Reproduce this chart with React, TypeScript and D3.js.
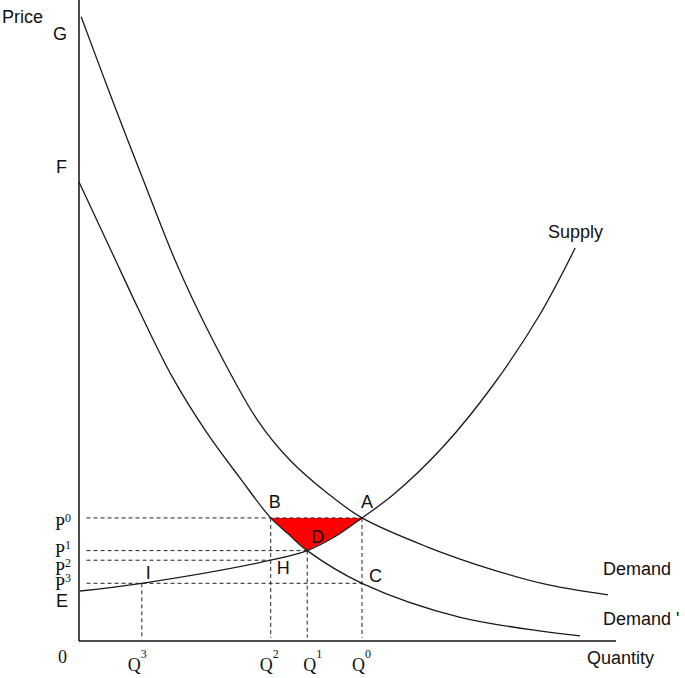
import React from 'react';
import * as d3 from 'd3';

// values, quantity and price both on a 0..100 scale
const supplyQ = [0.2, 11.7, 35.7, 42.5, 47.7, 52.7, 58.5, 67.8, 77.1, 85.8, 92.4];
const supplyP = [7.8, 9.0, 12.6, 14.1, 16.3, 19.2, 22.8, 30.3, 39.9, 50.9, 61.3];

const demandQ = [0.4, 6.2, 12.5, 18.1, 23.8, 33.2, 39.3, 46.2, 52.7, 64.8, 77.1, 87.7, 98.5];
const demandP = [97.4, 84.4, 70.8, 59.0, 48.8, 34.5, 28.2, 23.1, 19.2, 14.7, 11.1, 8.7, 7.2];

const demand2Q = [0, 6.2, 11.4, 17.5, 23.8, 30.0, 35.7, 39.1, 42.5, 52.7, 71.0, 93.3];
const demand2P = [71.6, 60.5, 51.2, 41.0, 32.5, 25.4, 19.2, 16.6, 14.1, 9.0, 3.7, 0.8];

// key points
const pointNames = ['A', 'B', 'C', 'D', 'H', 'I'];
const pointQ = [52.7, 35.7, 52.7, 42.5, 35.7, 11.7];
const pointP = [19.2, 19.2, 9.0, 14.1, 12.6, 9.0];
const pointLabelDx = [-1, -2, 7, 4, 6, 4];
const pointLabelDy = [-10, -10, -1, -8, 14, -4];

const priceLabels = ['0', '1', '2', '3'];
const priceLevels = [19.2, 14.1, 12.6, 9.0];
const priceEnds = [52.7, 42.5, 35.7, 52.7];
const priceLabelY = [530, 557, 575, 590];

const qtyLabels = ['3', '2', '1', '0'];
const qtyLevels = [11.7, 35.7, 42.5, 52.7];
const qtyTops = [9.0, 19.2, 14.1, 19.2];
const qtyLabelDx = [-14, -11, -4, -10];

const W = 685;
const H = 678;

const x = d3.scaleLinear().domain([0, 100]).range([79, 616]);
const y = d3.scaleLinear().domain([0, 100]).range([641, 0]);

const pts = (qs: number[], ps: number[]) => qs.map((q, i) => [q, ps[i]] as [number, number]);

const curve = d3.line<[number, number]>()
  .x(d => x(d[0]))
  .y(d => y(d[1]))
  .curve(d3.curveCatmullRom.alpha(0.5));

const poly = d3.line<[number, number]>()
  .x(d => x(d[0]))
  .y(d => y(d[1]));

const sans = 'Liberation Sans, Arial, Helvetica, sans-serif';
const serif = 'Liberation Serif, Times New Roman, serif';

export default function App() {
  const supply = pts(supplyQ, supplyP);
  const demand = pts(demandQ, demandP);
  const demand2 = pts(demand2Q, demand2P);

  const A: [number, number] = [pointQ[0], pointP[0]];
  const B: [number, number] = [pointQ[1], pointP[1]];
  const D: [number, number] = [pointQ[3], pointP[3]];

  // loss triangle: B -> A, down the supply to D, up the shifted demand to B
  const lossPts: [number, number][] = [
    B,
    A,
    ...supply.filter(p => p[0] > D[0] && p[0] < A[0]).reverse(),
    D,
    ...demand2.filter(p => p[0] > B[0] && p[0] < D[0]).reverse(),
  ];

  return (
    <svg width={W} height={H} style={{ position: 'absolute', left: 0, top: 0, background: '#fff' }}>
      <path d={poly(lossPts) + 'Z'} fill="#ff0000" stroke="none" />

      {/* dashed guides */}
      {priceLevels.map((p, i) => (
        <line key={'h' + i} x1={x(1.4)} x2={x(priceEnds[i])} y1={y(p)} y2={y(p)}
          stroke="#222" strokeWidth={1} strokeDasharray="4,3" />
      ))}
      {qtyLevels.map((q, i) => (
        <line key={'v' + i} x1={x(q)} x2={x(q)} y1={y(qtyTops[i])} y2={y(0.5)}
          stroke="#222" strokeWidth={1} strokeDasharray="4,3" />
      ))}

      {/* curves */}
      <path d={curve(demand) || ''} fill="none" stroke="#1a1a1a" strokeWidth={1.3} />
      <path d={curve(demand2) || ''} fill="none" stroke="#1a1a1a" strokeWidth={1.3} />
      <path d={curve(supply) || ''} fill="none" stroke="#1a1a1a" strokeWidth={1.3} />

      {/* axes */}
      <line x1={x(0)} x2={x(0)} y1={y(100)} y2={y(0)} stroke="#111" strokeWidth={1.5} />
      <line x1={x(0)} x2={x(100)} y1={y(0)} y2={y(0)} stroke="#111" strokeWidth={1.5} />

      {/* sans labels */}
      <g fontFamily={sans} fontSize={18} fill="#111">
        <text x={2} y={23}>Price</text>
        <text x={53} y={40}>G</text>
        <text x={56} y={173}>F</text>
        <text x={56} y={607}>E</text>
        <text x={548} y={238}>Supply</text>
        <text x={603} y={575}>Demand</text>
        <text x={603} y={625}>Demand '</text>
        <text x={587} y={664}>Quantity</text>
        {pointNames.map((n, i) => (
          <text key={n} x={x(pointQ[i]) + pointLabelDx[i]} y={y(pointP[i]) + pointLabelDy[i]}>{n}</text>
        ))}
      </g>

      {/* serif labels */}
      <g fontFamily={serif} fontSize={18} fill="#111">
        <text x={58} y={663}>0</text>
        {priceLabels.map((s, i) => (
          <text key={'p' + i} x={55} y={priceLabelY[i]}>
            P<tspan fontSize={12} dy={-8}>{s}</tspan>
          </text>
        ))}
        {qtyLabels.map((s, i) => (
          <text key={'q' + i} x={x(qtyLevels[i]) + qtyLabelDx[i]} y={671}>
            Q<tspan fontSize={12} dy={-13}>{s}</tspan>
          </text>
        ))}
      </g>
    </svg>
  );
}
